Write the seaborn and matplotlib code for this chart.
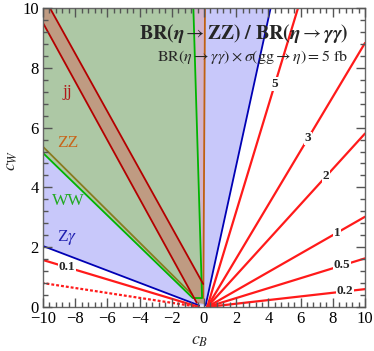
import numpy as np
import pandas as pd
import matplotlib
matplotlib.use("Agg")
import matplotlib.pyplot as plt
import seaborn as sns
from matplotlib.ticker import MultipleLocator

sns.set_theme(style="ticks")
plt.rcParams['font.family'] = ['Liberation Serif', 'DejaVu Serif']
plt.rcParams['mathtext.fontset'] = 'stix'
plt.rcParams['axes.axisbelow'] = False

# ---- data -------------------------------------------------------------
# contour labels (sigma x BR in fb) and c_W/c_B slopes of the rays
contour_labels = ["5", "3", "2", "1", "0.5", "0.2", "0.1", "0.05"]
contour_slopes = [1.773, 0.901, 0.592, 0.308, 0.166, 0.061, -0.162, -0.0825]
contour_label_cB = [4.41, 6.46, 7.58, 8.26, 8.57, 8.76, -8.51, None]
contour_dotted = [False, False, False, False, False, False, False, True]

# channel region boundaries (c_B, c_W)
zgam_cB = [-10.0, -0.3, 0.1, 4.14, -10.0]
zgam_cW = [2.04, 0.05, 0.05, 10.0, 10.0]
zz_cB = [-10.0, -0.75, -0.04, 0.06, -10.0]
zz_cW = [5.36, 0.42, 0.3, 10.0, 10.0]
ww_cB = [-10.0, -0.7, -0.12, -0.66, -10.0]
ww_cW = [5.15, 0.3, 0.3, 10.0, 10.0]
jj_cB = [-10.51, -0.45, 0.0, -0.05, -9.57]
jj_cW = [10.0, 0.14, 0.1, 0.77, 10.0]

region_names = ["jj", "ZZ", "WW", "Z$\\gamma$"]
region_label_cB = [-8.51, -8.45, -8.45, -8.51]
region_label_cW = [7.19, 5.48, 3.55, 2.31]

xticks = [-10, -8, -6, -4, -2, 0, 2, 4, 6, 8, 10]
yticks = [0, 2, 4, 6, 8, 10]

# ---- figure -----------------------------------------------------------
fig = plt.figure(figsize=(3.74, 3.51), dpi=100)
pos = [43/374, 1-307/351, 322/374, 299/351]
ax = fig.add_axes(pos)

# contour rays (seaborn)
rows = []
for lab, s, dot in zip(contour_labels, contour_slopes, contour_dotted):
    if s > 0:
        x0 = 0.2
        x1 = min(10.0, x0 + 10.0 / s)
    else:
        x0 = -0.3
        x1 = -10.0
    rows.append({"label": lab, "cB": x0, "cW": 0.0, "dotted": dot})
    rows.append({"label": lab, "cB": x1, "cW": s * (x1 - x0), "dotted": dot})
df = pd.DataFrame(rows)
sns.lineplot(data=df[~df.dotted], x="cB", y="cW", units="label", estimator=None,
             sort=False, color='#ff1a1a', lw=1.6, ax=ax, zorder=1.9)
sns.lineplot(data=df[df.dotted], x="cB", y="cW", units="label", estimator=None,
             sort=False, color='#ff1a1a', lw=1.6, ax=ax, zorder=1.9,
             linestyle=(0, (1.3, 0.9)))

c_blue_f, c_pink_f, c_green_f, c_band_f = '#c8c8fa', '#d2b4cd', '#adc8a5', '#bf9b82'
c_blue, c_green, c_orange, c_olive, c_dred = '#0000b4', '#00b400', '#c06010', '#8a7a20', '#b40000'

ax.fill(zgam_cB, zgam_cW, color=c_blue_f, lw=0, zorder=1)
ax.fill(zz_cB, zz_cW, color=c_pink_f, lw=0, zorder=1.1)
ax.fill(ww_cB, ww_cW, color=c_green_f, lw=0, zorder=1.2)
ax.fill(jj_cB, jj_cW, color=c_band_f, lw=0, zorder=1.3)

lw = 1.3
ax.plot(zz_cB[:2], zz_cW[:2], color=c_olive, lw=lw, zorder=1.5)
ax.plot(zz_cB[2:4], zz_cW[2:4], color=c_orange, lw=lw, zorder=1.5)
ax.plot(ww_cB[:4], ww_cW[:4], color=c_green, lw=lw, zorder=1.6)
ax.plot(jj_cB[:2], jj_cW[:2], color=c_dred, lw=lw, zorder=1.7)
ax.plot(jj_cB[3:5], jj_cW[3:5], color=c_dred, lw=lw, zorder=1.7)
ax.plot(zgam_cB[:2], zgam_cW[:2], color=c_blue, lw=lw, zorder=1.8)
ax.plot(zgam_cB[2:4], zgam_cW[2:4], color=c_blue, lw=lw, zorder=1.8)

for lab, s, xl in zip(contour_labels, contour_slopes, contour_label_cB):
    if xl is None:
        continue
    x0 = 0.2 if s > 0 else -0.3
    ax.text(xl, s * (xl - x0), lab, fontsize=9.5, fontweight='bold', ha='center',
            va='center', zorder=2,
            bbox=dict(facecolor='white', edgecolor='none', pad=0.6))

region_colors = ['#b01818', '#c8661a', '#22aa22', '#2020b0']
for name, xl, yl, col in zip(region_names, region_label_cB, region_label_cW, region_colors):
    ax.text(xl, yl, name, fontsize=12.5, color=col, ha='center', va='center', zorder=2)

ax.text(8.94, 9.16,
        r"$\mathbf{BR(}\boldsymbol{\eta} \rightarrow \mathbf{ZZ)\ /\ BR(}\boldsymbol{\eta} \rightarrow \boldsymbol{\gamma\gamma}\mathbf{)}$",
        fontsize=14.3, ha='right', va='center', zorder=2.1)
ax.text(8.94, 8.36,
        r"$\mathrm{BR}(\eta \rightarrow \gamma\gamma) \times \sigma(\mathrm{gg} \rightarrow \eta) = 5\ \mathrm{fb}$",
        fontsize=11.5, ha='right', va='center', zorder=2.1)

ax.set_xlim(-10, 10)
ax.set_ylim(0, 10)
ax.set_xticks([])
ax.set_yticks([])
ax.set_xlabel("")
ax.set_ylabel("")
for sp in ax.spines.values():
    sp.set_visible(False)

# transparent overlay axes carrying the frame, ticks and labels
ax2 = fig.add_axes(pos, zorder=5)
ax2.set_facecolor('none')
ax2.set_xlim(-10, 10)
ax2.set_ylim(0, 10)
ax2.set_xticks(xticks)
ax2.set_yticks(yticks)
ax2.xaxis.set_minor_locator(MultipleLocator(0.4))
ax2.yaxis.set_minor_locator(MultipleLocator(0.4))
ax2.tick_params(which='both', direction='in', top=True, right=True, bottom=True, left=True,
                color='#555555', labelsize=12, labelcolor='black', width=1.0)
ax2.tick_params(which='major', length=6.5, pad=3)
ax2.tick_params(which='minor', length=3.5)
for sp in ax2.spines.values():
    sp.set_color('#666666')
    sp.set_linewidth(1.0)
ax2.set_xlabel(r"$c_B$", fontsize=13)
ax2.set_ylabel(r"$c_W$", fontsize=13, rotation=90)
ax2.xaxis.set_label_coords(0.488, -0.085)
ax2.yaxis.set_label_coords(-0.07, 0.49)

fig.savefig("out.png", dpi=100)
